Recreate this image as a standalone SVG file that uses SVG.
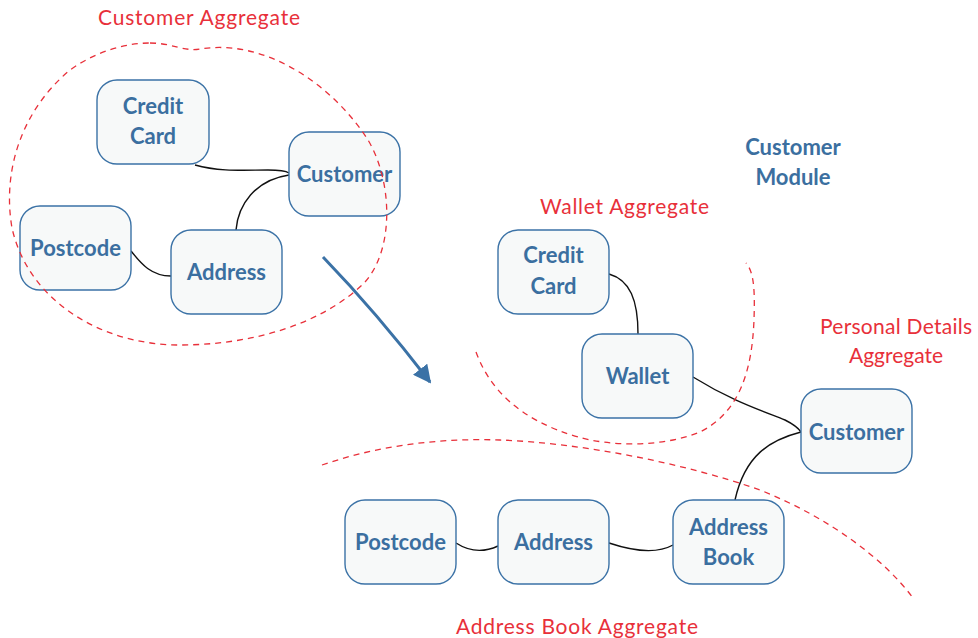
<svg xmlns="http://www.w3.org/2000/svg" width="978" height="638" viewBox="0 0 978 638">
<defs>
<style>
.node rect{fill:#f7f9f9;stroke:#3b72a6;stroke-width:1.4}
.node text{font-family:Lato,"Open Sans",sans-serif;font-weight:bold;font-size:22px;fill:#3b6fa0;text-anchor:middle}
.conn{fill:none;stroke:#111;stroke-width:1.4}
.agg{fill:none;stroke:#e8303a;stroke-width:1.3;stroke-dasharray:6 5}
.lbl{font-family:Lato,"Open Sans",sans-serif;font-size:21px;fill:#e8303a}
.mod{font-family:Lato,"Open Sans",sans-serif;font-weight:bold;font-size:22px;fill:#3b6fa0;text-anchor:middle}
</style>
<marker id="ah" viewBox="0 0 10 10" refX="9" refY="5" markerWidth="6" markerHeight="6" orient="auto" markerUnits="strokeWidth">
<path d="M0,0 L10,5 L0,10 Z" fill="#3b72a6"/>
</marker>
</defs>
<rect width="978" height="638" fill="#fff"/>

<g id="labels">
<text class="lbl" x="98" y="25" textLength="202" lengthAdjust="spacing">Customer Aggregate</text>
<text class="lbl" x="540" y="214" textLength="169" lengthAdjust="spacing">Wallet Aggregate</text>
<text class="lbl" x="820" y="334" textLength="152" lengthAdjust="spacing">Personal Details</text>
<text class="lbl" x="896" y="363" text-anchor="middle">Aggregate</text>
<text class="lbl" x="456" y="634" textLength="242" lengthAdjust="spacing">Address Book Aggregate</text>
<text class="mod" x="793" y="155">Customer</text>
<text class="mod" x="793" y="185">Module</text>
</g>

<g id="connectors">
<path class="conn" d="M195,165 C220,172 245,170 268,170 C280,170 286,171 289,173"/>
<path class="conn" d="M289,175 C255,180 238,205 236,230"/>
<path class="conn" d="M131,251 C140,262 150,276 171,276"/>
<path class="conn" d="M609,274 C630,280 638,300 638,334"/>
<path class="conn" d="M693,377 C730,400 760,410 785,420 C795,425 799,429 801,432"/>
<path class="conn" d="M801,432 C770,440 745,455 735,500"/>
<path class="conn" d="M456,543 C470,552 485,552 498,546"/>
<path class="conn" d="M609,543 C630,550 655,555 673,545"/>
<path d="M323,257 C350,285 390,330 430,382" fill="none" stroke="#3b72a6" stroke-width="3" marker-end="url(#ah)"/>
</g>

<g id="n-credit-card-1" class="node"><rect x="97" y="80" width="112" height="84" rx="20"/><text x="153" y="114">Credit</text><text x="153" y="144">Card</text></g>
<g id="n-customer-1" class="node"><rect x="289" y="132" width="111" height="84" rx="20"/><text x="344.5" y="182">Customer</text></g>
<g id="n-postcode-1" class="node"><rect x="20" y="206" width="111" height="84" rx="20"/><text x="75.5" y="256">Postcode</text></g>
<g id="n-address-1" class="node"><rect x="171" y="230" width="111" height="84" rx="20"/><text x="226.5" y="280">Address</text></g>
<g id="n-credit-card-2" class="node"><rect x="498" y="230" width="111" height="84" rx="20"/><text x="553.5" y="263">Credit</text><text x="553.5" y="294">Card</text></g>
<g id="n-wallet" class="node"><rect x="582" y="334" width="111" height="84" rx="20"/><text x="637.5" y="384">Wallet</text></g>
<g id="n-customer-2" class="node"><rect x="801" y="389" width="111" height="84" rx="20"/><text x="856.5" y="440">Customer</text></g>
<g id="n-postcode-2" class="node"><rect x="345" y="500" width="111" height="84" rx="20"/><text x="400.5" y="550">Postcode</text></g>
<g id="n-address-2" class="node"><rect x="498" y="500" width="111" height="84" rx="20"/><text x="553.5" y="550">Address</text></g>
<g id="n-address-book" class="node"><rect x="673" y="500" width="111" height="84" rx="20"/><text x="728.5" y="535">Address</text><text x="728.5" y="565">Book</text></g>

<g id="aggregates">
<path class="agg" d="M150,43 C172,43 185,52 200,49 C268,38 335,88 368,140 C392,180 395,248 365,282 C322,325 250,345 180,345 C100,345 28,300 12,228 C2,170 22,110 70,70 C95,52 125,43 150,43 Z"/>
<path class="agg" d="M476,352 C490,390 520,420 578,437 C610,446 660,448 700,432 C740,412 752,370 754,320 C755,290 754,272 746,263"/>
<path class="agg" d="M322,465 C380,445 440,438 500,440 C580,443 680,462 760,490 C830,518 885,560 913,598"/>
</g>
</svg>
